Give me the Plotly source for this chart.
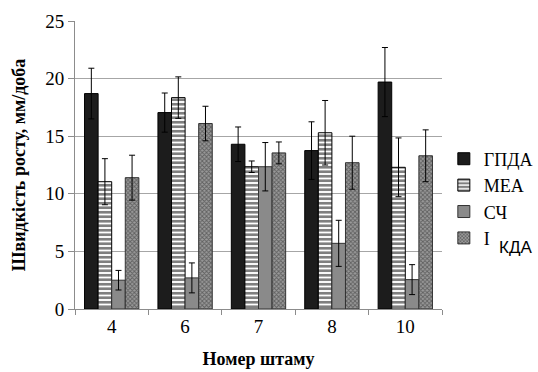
import plotly.graph_objects as go

strains = ["4", "6", "7", "8", "10"]
gpda = [18.7, 17.05, 14.3, 13.75, 19.7]
gpda_err = [2.2, 1.7, 1.5, 2.5, 3.0]
mea = [11.05, 18.35, 12.35, 15.3, 12.3]
mea_err = [2.0, 1.8, 0.5, 2.8, 2.55]
sch = [2.5, 2.7, 12.35, 5.7, 2.55]
sch_err = [0.85, 1.3, 2.1, 2.0, 1.3]
kda = [11.4, 16.1, 13.55, 12.7, 13.3]
kda_err = [1.95, 1.5, 0.95, 2.3, 2.25]

serif = "Liberation Serif, Times New Roman, serif"

def err(v):
    return dict(type="data", array=v, visible=True, color="black", thickness=1, width=3)

fig = go.Figure()
fig.add_bar(x=strains, y=gpda, name="ГПДА", error_y=err(gpda_err),
            marker=dict(color="#1c1c1c", line=dict(color="black", width=1)))
fig.add_bar(x=strains, y=mea, name="МЕА", error_y=err(mea_err),
            marker=dict(color="white", line=dict(color="black", width=1),
                        pattern=dict(shape="-", fgcolor="black", bgcolor="white", size=4.5, solidity=0.6)))
fig.add_bar(x=strains, y=sch, name="СЧ", error_y=err(sch_err),
            marker=dict(color="#8a8a8a", line=dict(color="#333333", width=1)))
fig.add_bar(x=strains, y=kda, name="І", error_y=err(kda_err),
            marker=dict(color="#8f8f8f", line=dict(color="#333333", width=1),
                        pattern=dict(shape="x", fgcolor="#262626", bgcolor="#9a9a9a", size=3, solidity=0.5)))

fig.update_layout(
    width=538, height=372,
    margin=dict(l=75, r=96, t=21, b=63, autoexpand=False),
    paper_bgcolor="white", plot_bgcolor="white",
    barmode="group", bargap=0.26, bargroupgap=0.0,
    font=dict(family=serif, size=19, color="black"),
    showlegend=True,
    legend=dict(x=1.005, y=0.585, xanchor="left", yanchor="top",
                font=dict(family=serif, size=18, color="black"), tracegroupgap=0,
                itemwidth=30, bgcolor="rgba(0,0,0,0)"),
    annotations=[dict(text="КДА", x=1.2, y=0.215, xref="paper", yref="paper",
                      xanchor="center", yanchor="middle", showarrow=False,
                      font=dict(family="Liberation Sans", size=17, color="black"))],
)
fig.update_yaxes(range=[0, 25], dtick=5, showgrid=True, gridcolor="#a6a6a6", gridwidth=1,
                 showline=True, linecolor="#8c8c8c", ticks="outside", ticklen=6, tickcolor="#8c8c8c",
                 zeroline=False,
                 title=dict(text="<b>Швидкість росту, мм/доба</b>", font=dict(family=serif, size=18), standoff=14))
fig.update_xaxes(showline=True, linecolor="#8c8c8c", ticks="outside", ticklen=5, tickcolor="#8c8c8c",
                 tickson="boundaries",
                 title=dict(text="<b>Номер штаму</b>", font=dict(family=serif, size=18), standoff=16))

fig.write_html("out.html", config={"displayModeBar": False},
               post_script="document.body.style.margin='0';document.body.style.overflow='hidden';")
